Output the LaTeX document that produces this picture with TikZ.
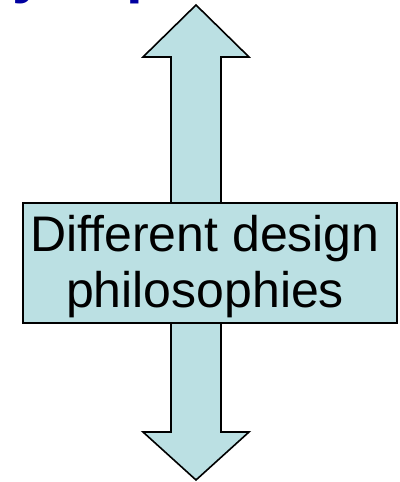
\documentclass[tikz,border=0pt]{standalone}
\usepackage{fontspec}
\setmainfont[Ligatures=NoCommon]{Liberation Sans}
\definecolor{boxfill}{RGB}{187,224,227}
\definecolor{titleblue}{RGB}{0,0,160}
\begin{document}
\begin{tikzpicture}[x=1pt,y=1pt,
  shapeline/.style={draw=black,line width=1.6pt,fill=boxfill,line join=miter},
  boxtext/.style={font=\fontsize{50}{56}\selectfont,anchor=base,inner sep=0pt},
  titletext/.style={font=\fontsize{60}{60}\selectfont\bfseries,text=titleblue,anchor=base west,inner sep=0pt}]
\useasboundingbox (0,0) rectangle (399,482);
\clip (0,0) rectangle (399,482);
% title fragments (cut off at the top)
\node[titletext] (ty) at (12,490) {y};
\node[titletext] (tp) at (126,490) {p};
% double arrow
\draw[shapeline] (196,477) -- (249,425) -- (221,425) -- (221,50) -- (249,50)
  -- (196,2) -- (143,50) -- (171,50) -- (171,425) -- (143,425) -- cycle;
% central box
\node[shapeline,minimum width=374pt,minimum height=120pt,inner sep=0pt] (box) at (210,219) {};
\node[boxtext] (l1) at (205,230) {Different design};
\node[boxtext] (l2) at (205,174) {philosophies};
\end{tikzpicture}
\end{document}
